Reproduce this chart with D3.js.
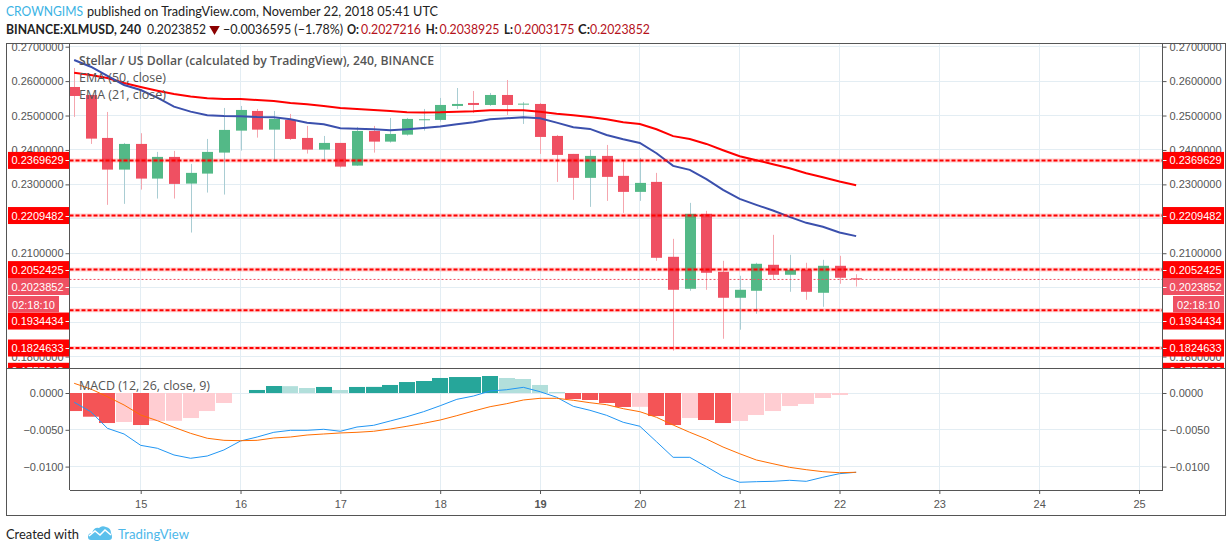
<!DOCTYPE html>
<html><head><meta charset="utf-8">
<script src="https://cdnjs.cloudflare.com/ajax/libs/d3/7.8.5/d3.min.js"></script>
<style>
html,body{margin:0;padding:0;background:#fff;overflow:hidden}
svg{display:block}
text{font-family:"Liberation Sans",Arial,sans-serif}
.hd{font-family:"Lato",sans-serif;font-size:14px;fill:#222}
.leg{font-family:"Open Sans",sans-serif;font-size:12.5px;fill:#555}
</style></head><body>
<svg id="c" width="1232" height="552"></svg>
<script>
const firstDay = 14 + 1/3, barsPerDay = 6;
const open  = [.25829,.25597,.24349,.23429,.24175,.23168,.23798,.23023,.23313,.23923,.24561,.25133,.24590,.24872,.24349,.24010,.24204,.23545,.24552,.24242,.24445,.24872,.24872,.25278,.25365,.25307,.25597,.25316,.25336,.24407,.23885,.23189,.23827,.23247,.22782,.23072,.20896,.19967,.22144,.20461,.19706,.19909,.20664,.20374,.20519,.19851,.20635,.20272];
const close = [.25568,.24329,.23429,.24175,.23168,.23798,.23014,.23334,.23943,.24582,.25162,.24590,.24901,.24320,.24010,.24204,.23516,.24552,.24242,.24465,.24901,.24892,.25307,.25336,.25307,.25597,.25307,.25345,.24378,.23856,.23189,.23827,.23218,.22782,.23043,.20867,.19938,.22144,.20432,.19706,.19938,.20693,.20374,.20519,.19880,.20635,.20287,.20239];
const high  = [.26381,.25597,.25104,.24204,.24486,.23943,.23972,.23595,.24320,.25220,.25278,.25191,.25133,.25046,.24698,.24407,.24204,.24669,.24698,.24930,.24930,.25191,.25510,.25800,.25713,.25655,.26032,.25394,.25365,.24436,.23885,.24001,.24146,.23682,.23769,.23334,.21418,.22463,.22231,.20780,.20345,.20722,.21534,.20954,.20722,.20809,.20925,.20389];
const low   = [.24959,.24175,.22405,.22434,.22849,.22588,.22588,.21601,.22762,.22704,.23981,.24358,.23711,.24291,.23894,.23711,.23488,.23537,.23923,.24213,.24416,.24561,.24822,.25191,.25075,.25278,.25017,.24756,.23885,.23072,.22550,.22347,.22521,.22173,.22521,.20780,.18168,.19909,.19938,.18516,.18778,.19242,.20229,.19880,.19648,.19445,.20113,.20032];
const emaSlow = [.26244,.26178,.26090,.25945,.25829,.25722,.25626,.25554,.25501,.25481,.25481,.25452,.25423,.25365,.25327,.25278,.25220,.25191,.25162,.25133,.25095,.25089,.25095,.25113,.25124,.25153,.25153,.25153,.25113,.25055,.25008,.24959,.24892,.24805,.24756,.24602,.24401,.24320,.24175,.23993,.23818,.23702,.23586,.23470,.23325,.23209,.23081,.22977];
const emaFast = [.26613,.26418,.26149,.25887,.25742,.25519,.25258,.25113,.25008,.24988,.24979,.24959,.24950,.24892,.24793,.24747,.24631,.24619,.24602,.24573,.24602,.24640,.24683,.24747,.24805,.24892,.24921,.24950,.24921,.24793,.24660,.24611,.24436,.24312,.24204,.23905,.23537,.23421,.23151,.22840,.22579,.22405,.22240,.22057,.21883,.21767,.21601,.21497];
const macdHist = [-.00245,-.00322,-.00408,-.00394,-.00435,-.00380,-.00378,-.00340,-.00245,-.00136,0,.00041,.00095,.00093,.00068,.00082,.00041,.00082,.00083,.00109,.00149,.00163,.00204,.00217,.00217,.00231,.00204,.00190,.00109,.00014,-.00082,-.00095,-.00136,-.00190,-.00188,-.00313,-.00435,-.00340,-.00367,-.00408,-.00380,-.00299,-.00245,-.00177,-.00149,-.00068,-.00027,0];
const macdLine = [-.00126,-.00254,-.00480,-.00557,-.00711,-.00751,-.00842,-.00887,-.00856,-.00774,-.00652,-.00598,-.00534,-.00507,-.00507,-.00493,-.00520,-.00462,-.00439,-.00380,-.00322,-.00254,-.00173,-.00086,-.00041,.00027,.00045,.00077,.00018,-.00058,-.00181,-.00235,-.00303,-.00398,-.00452,-.00662,-.00874,-.00874,-.01001,-.01132,-.01213,-.01205,-.01200,-.01186,-.01200,-.01145,-.01096,-.01077];
const macdSignal = [.00132,.00054,-.00050,-.00163,-.00299,-.00376,-.00466,-.00548,-.00615,-.00643,-.00648,-.00643,-.00611,-.00598,-.00571,-.00557,-.00543,-.00534,-.00520,-.00489,-.00452,-.00412,-.00367,-.00308,-.00245,-.00186,-.00145,-.00095,-.00072,-.00072,-.00099,-.00132,-.00159,-.00213,-.00254,-.00330,-.00435,-.00534,-.00625,-.00734,-.00825,-.00910,-.00961,-.01010,-.01042,-.01069,-.01083,-.01077];
const hLines = [0.2369629,0.2209482,0.1934434,0.1824633,0.2052425];
const priceTicks = [.18,.19,.20,.21,.22,.23,.24,.25,.26,.27];
const priceTickLabels = [.18,.21,.23,.24,.25,.26,.27];
const macdTicks = [0,-.005,-.01];
const dayTicks = [15,16,17,18,19,20,21,22,23,24,25];
const lastPrice = 0.2023852;
const redLabels = [["0.2369629",0.2369629],["0.2209482",0.2209482],["0.2052425",0.2052425],["0.1934434",0.1903],["0.1824633",0.1824633],["0.1757048",0.1757048]];

const L=69.5,R=1162.5,PT=44,PB=368,MB=490,OL=6.5,OR=1225.5,OT=43.5,OB=515.5;
const svg=d3.select("#c");
const x=d3.scaleLinear().domain([15,25]).range([140.7,1139]);
const y=d3.scaleLinear().domain([.18,.26]).range([356.5,81.1]);
const ym=d3.scaleLinear().domain([0,-.01]).range([393,466.6]);
const bx=i=>x(firstDay+i/barsPerDay);
const GRID="#e3edf3",AX="#555";
const RED="#ef5062",GRN="#53b987",RW="#f5a6ae",GW="#a9cdd3";

const defs=svg.append("defs");
const cl=(id,a,b,c,d)=>defs.append("clipPath").attr("id",id).append("rect").attr("x",a).attr("y",b).attr("width",c-a).attr("height",d-b);
cl("pp",L,PT,R,PB);cl("mp",L,PB,R,MB);cl("la",OL,PT,L+.5,PB);cl("ra",R-.5,PT,OR,PB);

// grids
const grid=svg.append("g").attr("stroke",GRID).attr("stroke-width",1).attr("shape-rendering","crispEdges");
grid.selectAll(".v").data(dayTicks).join("line").attr("x1",d=>x(d)).attr("x2",d=>x(d)).attr("y1",PT).attr("y2",MB);
const gp=grid.append("g").attr("clip-path","url(#pp)");
gp.selectAll("line").data(priceTicks).join("line").attr("x1",L).attr("x2",R).attr("y1",d=>y(d)).attr("y2",d=>y(d));
grid.append("g").selectAll("line").data(macdTicks).join("line").attr("x1",L).attr("x2",R).attr("y1",d=>ym(d)).attr("y2",d=>ym(d));

// price pane
const pane=svg.append("g").attr("clip-path","url(#pp)");
pane.append("g").selectAll("line").data(open).join("line")
 .attr("x1",(d,i)=>Math.round(bx(i))+.5).attr("x2",(d,i)=>Math.round(bx(i))+.5)
 .attr("y1",(d,i)=>y(high[i])).attr("y2",(d,i)=>y(low[i]))
 .attr("stroke",(d,i)=>close[i]>=d?GW:RW).attr("stroke-width",1);
pane.append("g").selectAll("rect").data(open).join("rect")
 .attr("x",(d,i)=>Math.round(bx(i))-5).attr("width",11)
 .attr("y",(d,i)=>y(Math.max(d,close[i])))
 .attr("height",(d,i)=>Math.max(1,Math.abs(y(d)-y(close[i]))))
 .attr("fill",(d,i)=>close[i]>=d?GRN:RED);
const lp=d3.line().x((d,i)=>bx(i)).y(d=>y(d));
pane.append("path").attr("d",lp(emaSlow)).attr("fill","none").attr("stroke","#ff0000").attr("stroke-width",2);
pane.append("path").attr("d",lp(emaFast)).attr("fill","none").attr("stroke","#3b50ad").attr("stroke-width",2);
pane.append("g").selectAll("line").data(hLines).join("line").attr("x1",L).attr("x2",R)
 .attr("y1",d=>y(d)).attr("y2",d=>y(d)).attr("stroke","#ff0000").attr("stroke-opacity",.18).attr("stroke-width",4);
pane.append("g").selectAll("line").data(hLines).join("line").attr("x1",L).attr("x2",R)
 .attr("y1",d=>y(d)).attr("y2",d=>y(d)).attr("stroke","#ff0000").attr("stroke-width",2).attr("stroke-dasharray","4 2");
pane.append("line").attr("x1",L).attr("x2",R).attr("y1",y(lastPrice)).attr("y2",y(lastPrice))
 .attr("stroke",RED).attr("stroke-width",1).attr("stroke-dasharray","2 2");

// MACD pane
const mp=svg.append("g").attr("clip-path","url(#mp)");
const hcol=(v,i)=>{const p=i?macdHist[i-1]:0;return v>=0?(v>=p?"#26a69a":"#b2dfdb"):(v<=p?"#f45456":"#ffcdd2")};
mp.append("g").selectAll("rect").data(macdHist).join("rect")
 .attr("x",(d,i)=>Math.round(bx(i))-8).attr("width",16)
 .attr("y",d=>Math.min(ym(d),ym(0))).attr("height",d=>Math.abs(ym(d)-ym(0)))
 .attr("fill",hcol);
const lm=d3.line().x((d,i)=>bx(i)).y(d=>ym(d));
mp.append("path").attr("d",lm(macdLine)).attr("fill","none").attr("stroke","#2196f3").attr("stroke-width",1);
mp.append("path").attr("d",lm(macdSignal)).attr("fill","none").attr("stroke","#ff6d00").attr("stroke-width",1);

// axes
function style(g){g.selectAll("path.domain").remove();g.selectAll("line").attr("stroke",AX);g.selectAll("text").attr("fill",AX).style("font-size","11px")}
const fp=d3.format(".7f"),fm=d=>d3.format(".4f")(d).replace("-","\u2212");
const la=svg.append("g").attr("clip-path","url(#la)"),ra=svg.append("g").attr("clip-path","url(#ra)");
la.append("g").attr("transform",`translate(${L},0)`).call(d3.axisLeft(y).tickValues(priceTickLabels).tickFormat(fp).tickSize(4).tickPadding(2)).call(style);
ra.append("g").attr("transform",`translate(${R},0)`).call(d3.axisRight(y).tickValues(priceTickLabels).tickFormat(fp).tickSize(4).tickPadding(3)).call(style);
svg.append("g").attr("transform",`translate(${L},0)`).call(d3.axisLeft(ym).tickValues(macdTicks).tickFormat(fm).tickSize(4).tickPadding(2)).call(style);
svg.append("g").attr("transform",`translate(${R},0)`).call(d3.axisRight(ym).tickValues(macdTicks).tickFormat(fm).tickSize(4).tickPadding(3)).call(style);
svg.append("g").attr("transform",`translate(0,${MB})`).call(d3.axisBottom(x).tickValues(dayTicks).tickFormat(d3.format("d")).tickSize(4).tickPadding(6)).call(style)
 .selectAll("text").style("font-weight",d=>d===19?"bold":"normal");

// price labels
function tag(parent,txt,cy,fill,side,x0,x1){
 const g=parent.append("g");
 g.append("rect").attr("x",x0).attr("y",cy-8.5).attr("width",x1-x0).attr("height",17).attr("fill",fill);
 g.append("text").attr("x",side<0?x1-6:x0+7).attr("y",cy+4).attr("text-anchor",side<0?"end":"start").attr("fill","#fff").style("font-size","11px").text(txt);
 const tx=side<0?x1-4:x0; g.append("line").attr("x1",tx).attr("x2",tx+4).attr("y1",Math.round(cy)+.5).attr("y2",Math.round(cy)+.5).attr("stroke","#fff");
}
redLabels.forEach(([t,v])=>{const c=y(v);
 tag(la,t,c,"#ff0000",-1,8,L);tag(ra,t,c,"#ff0000",1,R,1224);});
tag(la,"0.2023852",286.5,RED,-1,8,L);tag(ra,"0.2023852",286.5,RED,1,R,1224);
[[8,59],[1173,1224]].forEach(([a,b])=>{
 svg.append("rect").attr("x",a).attr("y",296).attr("width",b-a).attr("height",16.5).attr("fill",RED);
 svg.append("text").attr("x",(a+b)/2).attr("y",308.5).attr("text-anchor","middle").attr("fill","#fff").style("font-size","11px").text("02:18:10");
});

// frame
const fr=svg.append("g").attr("stroke",AX).attr("fill","none").attr("stroke-width",1).attr("shape-rendering","crispEdges");
fr.append("rect").attr("x",OL).attr("y",OT).attr("width",OR-OL).attr("height",OB-OT);
fr.append("line").attr("x1",OL).attr("x2",OR).attr("y1",PB).attr("y2",PB);
fr.append("line").attr("x1",L).attr("x2",L).attr("y1",OT).attr("y2",MB);
fr.append("line").attr("x1",R).attr("x2",R).attr("y1",OT).attr("y2",MB);
fr.append("line").attr("x1",L).attr("x2",R).attr("y1",MB).attr("y2",MB);

// legends
const leg=(t,a,b,w,len)=>{const s=svg.append("text").attr("class","leg").attr("x",a).attr("y",b).style("font-weight",w||"normal").text(t);if(len)s.attr("textLength",len).attr("lengthAdjust","spacingAndGlyphs");};
leg("Stellar / US Dollar (calculated by TradingView), 240, BINANCE",79,65,"600",355);
leg("EMA (50, close)",79,82,null,87);
leg("EMA (21, close)",79,99,null,87);
leg("MACD (12, 26, close, 9)",79,390,null,131);

// header
const hd=(t,a,b,len,o={})=>svg.append("text").attr("class","hd").attr("x",a).attr("y",b).attr("textLength",len).attr("lengthAdjust","spacingAndGlyphs").style("font-weight",o.w||"normal").style("fill",o.c||null).text(t);
hd("CROWNGIMS",6,16,77,{c:"#3bb3e4"});
hd("published on TradingView.com, November 22, 2018 05:41 UTC",87,16,351);
hd("BINANCE:XLMUSD, 240",6,34,135,{w:"700"});
hd("0.2023852",147,34,59);
svg.append("path").attr("d",d3.symbol(d3.symbolTriangle,48)()).attr("transform","translate(214.5,29) rotate(180)").attr("fill","#8b0000");
hd("\u22120.0036595 (\u22121.78%)",223,34,120);
[["O:",347,"0.2027216",361],["H:",425.7,"0.2038925",439.5],["L:",504,"0.2003175",514.3],["C:",578,"0.2023852",590]].forEach(([k,a,v,b])=>{
 hd(k,a,34,k==="L:"?9:12,{w:"700"});hd(v,b,34,60,{c:"#b5121b"});
});

// footer
hd("Created with",6,539,73);
const logo=svg.append("g").attr("transform","translate(88,525)");
logo.append("path").attr("d","M0 12 Q0 8 4 8 Q6 2 11 3 Q14 0 18 2 Q23 3 23 8 Q24 10 24 12 Q24 15 21 15 L3 15 Q0 15 0 12 Z").attr("fill","#5bc0ec");
logo.append("path").attr("d","M1 11 L7 6 L12 10 L17 5 L23 10").attr("fill","none").attr("stroke","#fff").attr("stroke-width",1.6);
hd("TradingView",118,539,71,{c:"#4db8ea"});
</script>
</body></html>
